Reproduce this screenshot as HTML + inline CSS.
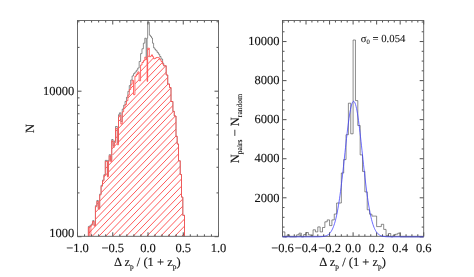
<!DOCTYPE html>
<html><head><meta charset="utf-8"><title>plot</title>
<style>html,body{margin:0;padding:0;background:#fff;}body{width:474px;height:277px;overflow:hidden;font-family:"Liberation Serif",serif;}</style></head>
<body>
<svg width="474" height="277" viewBox="0 0 474 277" style="display:block">
<rect width="474" height="277" fill="#fff"/>
<defs><filter id="gs" x="0" y="0" width="474" height="277" filterUnits="userSpaceOnUse" color-interpolation-filters="sRGB"><feColorMatrix type="saturate" values="0"/></filter><clipPath id="rc"><path d="M88.40 236.30 L88.40 227.35 L89.81 227.35 L89.81 226.61 L91.22 226.61 L91.22 225.05 L92.63 225.05 L92.63 221.56 L94.04 221.56 L94.04 226.10 L95.45 226.10 L95.45 206.63 L96.86 206.63 L96.86 201.38 L98.27 201.38 L98.27 209.20 L99.68 209.20 L99.68 194.91 L101.09 194.91 L101.09 186.22 L102.50 186.22 L102.50 181.05 L103.91 181.05 L103.91 175.62 L105.32 175.62 L105.32 161.37 L106.00 161.37 L106.00 161.43 L107.40 161.43 L107.40 176.86 L108.40 176.86 L108.40 161.48 L109.20 161.48 L109.20 155.80 L110.60 155.80 L110.60 161.65 L111.70 161.65 L111.70 140.90 L113.10 140.90 L113.10 147.37 L114.30 147.37 L114.30 142.72 L115.50 142.72 L115.50 128.41 L117.30 128.41 L117.30 144.80 L118.50 144.80 L118.50 116.95 L119.42 116.95 L119.42 115.22 L120.83 115.22 L120.83 124.06 L122.24 124.06 L122.24 111.81 L123.65 111.81 L123.65 108.19 L125.06 108.19 L125.06 104.54 L126.47 104.54 L126.47 100.68 L127.88 100.68 L127.88 95.09 L129.29 95.09 L129.29 89.51 L130.70 89.51 L130.70 84.28 L132.11 84.28 L132.11 80.40 L133.52 80.40 L133.52 94.70 L134.93 94.70 L134.93 76.17 L136.34 76.17 L136.34 74.07 L137.75 74.07 L137.75 71.90 L139.16 71.90 L139.16 80.80 L140.57 80.80 L140.57 65.05 L141.98 65.05 L141.98 62.47 L143.39 62.47 L143.39 60.68 L144.80 60.68 L144.80 57.09 L146.20 57.09 L146.20 59.50 L147.10 59.50 L147.10 81.40 L147.65 81.40 L147.65 48.20 L149.35 48.20 L149.35 56.75 L150.55 56.75 L150.55 56.14 L151.50 56.14 L151.50 54.86 L152.50 54.86 L152.50 56.66 L153.60 56.66 L153.60 58.81 L154.90 58.81 L154.90 58.36 L155.90 58.36 L155.90 57.60 L157.20 57.60 L157.20 57.43 L158.40 57.43 L158.40 57.91 L159.70 57.91 L159.70 59.65 L161.00 59.65 L161.00 61.46 L162.60 61.46 L162.60 64.18 L163.70 64.18 L163.70 65.80 L166.20 65.80 L166.20 75.00 L167.70 75.00 L167.70 84.00 L169.50 84.00 L169.50 87.50 L171.00 87.50 L171.00 101.50 L172.90 101.50 L172.90 111.40 L174.30 111.40 L174.30 116.00 L176.00 116.00 L176.00 136.30 L177.20 136.30 L177.20 144.00 L178.50 144.00 L178.50 160.80 L180.25 160.80 L180.25 174.50 L181.50 174.50 L181.50 197.10 L182.80 197.10 L182.80 215.30 L184.50 215.30 L184.50 236.30 Z"/></clipPath></defs>
<path d="M40.00 236.20 L118.52 155.00 L249.07 20.00 M46.50 236.20 L125.02 155.00 L255.57 20.00 M52.60 236.20 L131.12 155.00 L261.67 20.00 M59.10 236.20 L137.62 155.00 L268.17 20.00 M65.80 236.20 L144.32 155.00 L274.87 20.00 M72.40 236.20 L150.92 155.00 L281.47 20.00 M79.10 236.20 L157.62 155.00 L288.17 20.00 M85.70 236.20 L164.22 155.00 L294.77 20.00 M92.30 236.20 L170.82 155.00 L301.37 20.00 M98.90 236.20 L177.42 155.00 L307.97 20.00 M105.70 236.20 L184.22 155.00 L314.77 20.00 M112.60 236.20 L191.12 155.00 L321.67 20.00 M119.40 236.20 L197.92 155.00 L328.47 20.00 M126.20 236.20 L204.72 155.00 L335.27 20.00 M133.20 236.20 L211.72 155.00 L342.27 20.00 M140.10 236.20 L218.62 155.00 L349.17 20.00 M146.80 236.20 L225.32 155.00 L355.87 20.00 M153.70 236.20 L232.22 155.00 L362.77 20.00 M160.70 236.20 L239.22 155.00 L369.77 20.00 M167.90 236.20 L246.42 155.00 L376.97 20.00 M174.80 236.20 L253.32 155.00 L383.87 20.00 M181.80 236.20 L260.32 155.00 L390.87 20.00 M112.60 155.00 L243.15 20.00 M105.98 155.00 L236.53 20.00 M99.36 155.00 L229.91 20.00 M92.74 155.00 L223.29 20.00 M86.12 155.00 L216.67 20.00 M79.50 155.00 L210.05 20.00 M72.88 155.00 L203.43 20.00 M66.26 155.00 L196.81 20.00 M59.64 155.00 L190.19 20.00 M53.02 155.00 L183.57 20.00 M46.40 155.00 L176.95 20.00 M39.78 155.00 L170.33 20.00 M33.16 155.00 L163.71 20.00" stroke="#ff5252" stroke-width="0.95" fill="none" clip-path="url(#rc)"/>
<path d="M88.40 236.30 L88.40 226.45 L89.81 226.45 L89.81 225.71 L91.22 225.71 L91.22 224.15 L92.63 224.15 L92.63 220.66 L94.04 220.66 L94.04 225.20 L95.45 225.20 L95.45 205.73 L96.86 205.73 L96.86 200.48 L98.27 200.48 L98.27 208.30 L99.68 208.30 L99.68 194.01 L101.09 194.01 L101.09 185.28 L102.50 185.28 L102.50 180.09 L103.91 180.09 L103.91 174.63 L105.32 174.63 L105.32 160.36 L106.00 160.36 L106.00 160.40 L107.40 160.40 L107.40 175.80 L108.40 175.80 L108.40 160.40 L109.20 160.40 L109.20 154.70 L110.60 154.70 L110.60 160.40 L111.70 160.40 L111.70 139.50 L113.10 139.50 L113.10 145.80 L114.30 145.80 L114.30 141.00 L115.50 141.00 L115.50 126.50 L117.30 126.50 L117.30 142.70 L118.50 142.70 L118.50 114.71 L119.42 114.71 L119.42 112.83 L120.83 112.83 L120.83 121.50 L122.24 121.50 L122.24 109.07 L123.65 109.07 L123.65 105.27 L125.06 105.27 L125.06 101.40 L126.47 101.40 L126.47 97.27 L127.88 97.27 L127.88 91.42 L129.29 91.42 L129.29 85.57 L130.70 85.57 L130.70 80.08 L132.11 80.08 L132.11 75.94 L133.52 75.94 L133.52 73.65 L134.93 73.65 L134.93 72.02 L136.34 72.02 L136.34 70.21 L137.75 70.21 L137.75 68.02 L139.16 68.02 L139.16 61.50 L140.57 61.50 L140.57 53.62 L141.98 53.62 L141.98 48.78 L143.39 48.78 L143.39 43.17 L144.80 43.17 L144.80 38.20 L146.20 38.20 L146.20 58.50 L147.10 58.50 L147.10 38.20 L147.65 38.20 L147.65 22.30 L149.35 22.30 L149.35 35.20 L150.55 35.20 L150.55 36.50 L151.50 36.50 L151.50 38.00 L152.50 38.00 L152.50 43.20 L153.60 43.20 L153.60 47.90 L154.90 47.90 L154.90 49.50 L155.90 49.50 L155.90 50.80 L157.20 50.80 L157.20 52.50 L158.40 52.50 L158.40 54.20 L159.70 54.20 L159.70 56.50 L161.00 56.50 L161.00 59.00 L162.60 59.00 L162.60 63.20 L163.70 63.20 L163.70 65.80 L166.20 65.80 L166.20 75.00 L167.70 75.00 L167.70 84.00 L169.50 84.00 L169.50 87.50 L171.00 87.50 L171.00 101.50 L172.90 101.50 L172.90 111.40 L174.30 111.40 L174.30 116.00 L176.00 116.00 L176.00 136.30 L177.20 136.30 L177.20 144.00 L178.50 144.00 L178.50 160.80 L180.25 160.80 L180.25 174.50 L181.50 174.50 L181.50 197.10 L182.80 197.10 L182.80 215.30 L184.50 215.30 L184.50 236.30" stroke="#444" stroke-width="0.6" fill="none" stroke-linejoin="miter"/>
<path d="M88.40 236.30 L88.40 227.35 L89.81 227.35 L89.81 226.61 L91.22 226.61 L91.22 225.05 L92.63 225.05 L92.63 221.56 L94.04 221.56 L94.04 226.10 L95.45 226.10 L95.45 206.63 L96.86 206.63 L96.86 201.38 L98.27 201.38 L98.27 209.20 L99.68 209.20 L99.68 194.91 L101.09 194.91 L101.09 186.22 L102.50 186.22 L102.50 181.05 L103.91 181.05 L103.91 175.62 L105.32 175.62 L105.32 161.37 L106.00 161.37 L106.00 161.43 L107.40 161.43 L107.40 176.86 L108.40 176.86 L108.40 161.48 L109.20 161.48 L109.20 155.80 L110.60 155.80 L110.60 161.65 L111.70 161.65 L111.70 140.90 L113.10 140.90 L113.10 147.37 L114.30 147.37 L114.30 142.72 L115.50 142.72 L115.50 128.41 L117.30 128.41 L117.30 144.80 L118.50 144.80 L118.50 116.95 L119.42 116.95 L119.42 115.22 L120.83 115.22 L120.83 124.06 L122.24 124.06 L122.24 111.81 L123.65 111.81 L123.65 108.19 L125.06 108.19 L125.06 104.54 L126.47 104.54 L126.47 100.68 L127.88 100.68 L127.88 95.09 L129.29 95.09 L129.29 89.51 L130.70 89.51 L130.70 84.28 L132.11 84.28 L132.11 80.40 L133.52 80.40 L133.52 94.70 L134.93 94.70 L134.93 76.17 L136.34 76.17 L136.34 74.07 L137.75 74.07 L137.75 71.90 L139.16 71.90 L139.16 80.80 L140.57 80.80 L140.57 65.05 L141.98 65.05 L141.98 62.47 L143.39 62.47 L143.39 60.68 L144.80 60.68 L144.80 57.09 L146.20 57.09 L146.20 59.50 L147.10 59.50 L147.10 81.40 L147.65 81.40 L147.65 48.20 L149.35 48.20 L149.35 56.75 L150.55 56.75 L150.55 56.14 L151.50 56.14 L151.50 54.86 L152.50 54.86 L152.50 56.66 L153.60 56.66 L153.60 58.81 L154.90 58.81 L154.90 58.36 L155.90 58.36 L155.90 57.60 L157.20 57.60 L157.20 57.43 L158.40 57.43 L158.40 57.91 L159.70 57.91 L159.70 59.65 L161.00 59.65 L161.00 61.46 L162.60 61.46 L162.60 64.18 L163.70 64.18 L163.70 65.80 L166.20 65.80 L166.20 75.00 L167.70 75.00 L167.70 84.00 L169.50 84.00 L169.50 87.50 L171.00 87.50 L171.00 101.50 L172.90 101.50 L172.90 111.40 L174.30 111.40 L174.30 116.00 L176.00 116.00 L176.00 136.30 L177.20 136.30 L177.20 144.00 L178.50 144.00 L178.50 160.80 L180.25 160.80 L180.25 174.50 L181.50 174.50 L181.50 197.10 L182.80 197.10 L182.80 215.30 L184.50 215.30 L184.50 236.30" stroke="#fff" stroke-opacity="0.6" stroke-width="0.9" fill="none" stroke-linejoin="miter"/>
<path d="M88.40 236.30 L88.40 227.35 L89.81 227.35 L89.81 226.61 L91.22 226.61 L91.22 225.05 L92.63 225.05 L92.63 221.56 L94.04 221.56 L94.04 226.10 L95.45 226.10 L95.45 206.63 L96.86 206.63 L96.86 201.38 L98.27 201.38 L98.27 209.20 L99.68 209.20 L99.68 194.91 L101.09 194.91 L101.09 186.22 L102.50 186.22 L102.50 181.05 L103.91 181.05 L103.91 175.62 L105.32 175.62 L105.32 161.37 L106.00 161.37 L106.00 161.43 L107.40 161.43 L107.40 176.86 L108.40 176.86 L108.40 161.48 L109.20 161.48 L109.20 155.80 L110.60 155.80 L110.60 161.65 L111.70 161.65 L111.70 140.90 L113.10 140.90 L113.10 147.37 L114.30 147.37 L114.30 142.72 L115.50 142.72 L115.50 128.41 L117.30 128.41 L117.30 144.80 L118.50 144.80 L118.50 116.95 L119.42 116.95 L119.42 115.22 L120.83 115.22 L120.83 124.06 L122.24 124.06 L122.24 111.81 L123.65 111.81 L123.65 108.19 L125.06 108.19 L125.06 104.54 L126.47 104.54 L126.47 100.68 L127.88 100.68 L127.88 95.09 L129.29 95.09 L129.29 89.51 L130.70 89.51 L130.70 84.28 L132.11 84.28 L132.11 80.40 L133.52 80.40 L133.52 94.70 L134.93 94.70 L134.93 76.17 L136.34 76.17 L136.34 74.07 L137.75 74.07 L137.75 71.90 L139.16 71.90 L139.16 80.80 L140.57 80.80 L140.57 65.05 L141.98 65.05 L141.98 62.47 L143.39 62.47 L143.39 60.68 L144.80 60.68 L144.80 57.09 L146.20 57.09 L146.20 59.50 L147.10 59.50 L147.10 81.40 L147.65 81.40 L147.65 48.20 L149.35 48.20 L149.35 56.75 L150.55 56.75 L150.55 56.14 L151.50 56.14 L151.50 54.86 L152.50 54.86 L152.50 56.66 L153.60 56.66 L153.60 58.81 L154.90 58.81 L154.90 58.36 L155.90 58.36 L155.90 57.60 L157.20 57.60 L157.20 57.43 L158.40 57.43 L158.40 57.91 L159.70 57.91 L159.70 59.65 L161.00 59.65 L161.00 61.46 L162.60 61.46 L162.60 64.18 L163.70 64.18 L163.70 65.80 L166.20 65.80 L166.20 75.00 L167.70 75.00 L167.70 84.00 L169.50 84.00 L169.50 87.50 L171.00 87.50 L171.00 101.50 L172.90 101.50 L172.90 111.40 L174.30 111.40 L174.30 116.00 L176.00 116.00 L176.00 136.30 L177.20 136.30 L177.20 144.00 L178.50 144.00 L178.50 160.80 L180.25 160.80 L180.25 174.50 L181.50 174.50 L181.50 197.10 L182.80 197.10 L182.80 215.30 L184.50 215.30 L184.50 236.30" stroke="#ff2626" stroke-width="0.68" fill="none" stroke-linejoin="miter"/>
<path d="M89.6 236.2 V227.2 M90.9 236.2 V226.8" stroke="#ff2a2a" stroke-width="0.6" fill="none"/>
<path d="M77.50 236.30 v-4.00 M77.50 20.50 v4.00 M84.55 236.30 v-2.00 M84.55 20.50 v2.00 M91.60 236.30 v-2.00 M91.60 20.50 v2.00 M98.65 236.30 v-2.00 M98.65 20.50 v2.00 M105.70 236.30 v-2.00 M105.70 20.50 v2.00 M112.75 236.30 v-4.00 M112.75 20.50 v4.00 M119.80 236.30 v-2.00 M119.80 20.50 v2.00 M126.85 236.30 v-2.00 M126.85 20.50 v2.00 M133.90 236.30 v-2.00 M133.90 20.50 v2.00 M140.95 236.30 v-2.00 M140.95 20.50 v2.00 M148.00 236.30 v-4.00 M148.00 20.50 v4.00 M155.05 236.30 v-2.00 M155.05 20.50 v2.00 M162.10 236.30 v-2.00 M162.10 20.50 v2.00 M169.15 236.30 v-2.00 M169.15 20.50 v2.00 M176.20 236.30 v-2.00 M176.20 20.50 v2.00 M183.25 236.30 v-4.00 M183.25 20.50 v4.00 M190.30 236.30 v-2.00 M190.30 20.50 v2.00 M197.35 236.30 v-2.00 M197.35 20.50 v2.00 M204.40 236.30 v-2.00 M204.40 20.50 v2.00 M211.45 236.30 v-2.00 M211.45 20.50 v2.00 M218.50 236.30 v-4.00 M218.50 20.50 v4.00 M77.50 236.70 h4.00 M218.50 236.70 h-4.00 M77.50 192.90 h2.00 M218.50 192.90 h-2.00 M77.50 167.28 h2.00 M218.50 167.28 h-2.00 M77.50 149.10 h2.00 M218.50 149.10 h-2.00 M77.50 135.00 h2.00 M218.50 135.00 h-2.00 M77.50 123.48 h2.00 M218.50 123.48 h-2.00 M77.50 113.74 h2.00 M218.50 113.74 h-2.00 M77.50 105.30 h2.00 M218.50 105.30 h-2.00 M77.50 97.86 h2.00 M218.50 97.86 h-2.00 M77.50 91.20 h4.00 M218.50 91.20 h-4.00 M77.50 47.40 h2.00 M218.50 47.40 h-2.00 M77.50 21.78 h2.00 M218.50 21.78 h-2.00" stroke="#484848" stroke-width="0.95" fill="none"/>
<rect x="77.50" y="20.50" width="141.00" height="215.80" fill="none" stroke="#5c5c5c" stroke-width="0.9"/>
<path d="M282.50 231.90 L284.85 231.90 L284.85 236.85 L287.21 236.85 L287.21 234.80 L289.56 234.80 L289.56 236.85 L291.91 236.85 L291.91 236.85 L294.27 236.85 L294.27 236.85 L296.62 236.85 L296.62 234.80 L298.97 234.80 L298.97 233.20 L301.33 233.20 L301.33 236.85 L303.68 236.85 L303.68 234.50 L306.03 234.50 L306.03 232.50 L308.39 232.50 L308.39 234.80 L310.74 234.80 L310.74 235.70 L313.09 235.70 L313.09 229.80 L315.45 229.80 L315.45 231.90 L317.80 231.90 L317.80 226.90 L320.15 226.90 L320.15 231.90 L322.51 231.90 L322.51 227.50 L324.86 227.50 L324.86 221.80 L327.21 221.80 L327.21 219.90 L329.57 219.90 L329.57 225.60 L331.92 225.60 L331.92 219.90 L334.27 219.90 L334.27 214.00 L336.63 214.00 L336.63 203.00 L338.98 203.00 L338.98 203.00 L341.33 203.00 L341.33 173.00 L343.69 173.00 L343.69 159.60 L346.04 159.60 L346.04 134.70 L348.39 134.70 L348.39 103.20 L350.75 103.20 L350.75 133.80 L353.10 133.80 L353.10 40.00 L355.45 40.00 L355.45 100.60 L357.81 100.60 L357.81 125.50 L360.16 125.50 L360.16 154.90 L362.51 154.90 L362.51 171.40 L364.87 171.40 L364.87 191.90 L367.22 191.90 L367.22 209.80 L369.57 209.80 L369.57 214.20 L371.93 214.20 L371.93 216.10 L374.28 216.10 L374.28 216.10 L376.63 216.10 L376.63 226.60 L378.99 226.60 L378.99 226.60 L381.34 226.60 L381.34 224.30 L383.69 224.30 L383.69 229.40 L386.05 229.40 L386.05 235.70 L388.40 235.70 L388.40 233.50 L390.75 233.50 L390.75 236.85 L393.11 236.85 L393.11 235.10 L395.46 235.10 L395.46 234.20 L397.81 234.20 L397.81 233.20 L400.17 233.20 L400.17 236.85 L402.52 236.85 L402.52 236.85 L404.87 236.85 L404.87 236.85 L407.23 236.85 L407.23 236.85 L409.58 236.85 L409.58 236.85 L411.93 236.85 L411.93 236.85 L414.29 236.85 L414.29 236.85 L416.64 236.85 L416.64 236.85 L418.99 236.85 L418.99 236.85 L421.35 236.85 L421.35 236.85 L423.70 236.85" stroke="#444" stroke-width="0.62" fill="none"/>
<path d="M282.50 236.30 v-4.00 M282.50 20.50 v4.00 M288.38 236.30 v-2.00 M288.38 20.50 v2.00 M294.27 236.30 v-2.00 M294.27 20.50 v2.00 M300.15 236.30 v-2.00 M300.15 20.50 v2.00 M306.03 236.30 v-4.00 M306.03 20.50 v4.00 M311.92 236.30 v-2.00 M311.92 20.50 v2.00 M317.80 236.30 v-2.00 M317.80 20.50 v2.00 M323.68 236.30 v-2.00 M323.68 20.50 v2.00 M329.57 236.30 v-4.00 M329.57 20.50 v4.00 M335.45 236.30 v-2.00 M335.45 20.50 v2.00 M341.33 236.30 v-2.00 M341.33 20.50 v2.00 M347.22 236.30 v-2.00 M347.22 20.50 v2.00 M353.10 236.30 v-4.00 M353.10 20.50 v4.00 M358.98 236.30 v-2.00 M358.98 20.50 v2.00 M364.87 236.30 v-2.00 M364.87 20.50 v2.00 M370.75 236.30 v-2.00 M370.75 20.50 v2.00 M376.63 236.30 v-4.00 M376.63 20.50 v4.00 M382.52 236.30 v-2.00 M382.52 20.50 v2.00 M388.40 236.30 v-2.00 M388.40 20.50 v2.00 M394.28 236.30 v-2.00 M394.28 20.50 v2.00 M400.17 236.30 v-4.00 M400.17 20.50 v4.00 M406.05 236.30 v-2.00 M406.05 20.50 v2.00 M411.93 236.30 v-2.00 M411.93 20.50 v2.00 M417.82 236.30 v-2.00 M417.82 20.50 v2.00 M423.70 236.30 v-4.00 M423.70 20.50 v4.00 M282.50 236.85 h4.00 M423.70 236.85 h-4.00 M282.50 227.08 h2.00 M423.70 227.08 h-2.00 M282.50 217.32 h2.00 M423.70 217.32 h-2.00 M282.50 207.56 h2.00 M423.70 207.56 h-2.00 M282.50 197.79 h4.00 M423.70 197.79 h-4.00 M282.50 188.02 h2.00 M423.70 188.02 h-2.00 M282.50 178.26 h2.00 M423.70 178.26 h-2.00 M282.50 168.50 h2.00 M423.70 168.50 h-2.00 M282.50 158.73 h4.00 M423.70 158.73 h-4.00 M282.50 148.96 h2.00 M423.70 148.96 h-2.00 M282.50 139.20 h2.00 M423.70 139.20 h-2.00 M282.50 129.44 h2.00 M423.70 129.44 h-2.00 M282.50 119.67 h4.00 M423.70 119.67 h-4.00 M282.50 109.90 h2.00 M423.70 109.90 h-2.00 M282.50 100.14 h2.00 M423.70 100.14 h-2.00 M282.50 90.37 h2.00 M423.70 90.37 h-2.00 M282.50 80.61 h4.00 M423.70 80.61 h-4.00 M282.50 70.84 h2.00 M423.70 70.84 h-2.00 M282.50 61.08 h2.00 M423.70 61.08 h-2.00 M282.50 51.31 h2.00 M423.70 51.31 h-2.00 M282.50 41.55 h4.00 M423.70 41.55 h-4.00 M282.50 31.78 h2.00 M423.70 31.78 h-2.00 M282.50 22.02 h2.00 M423.70 22.02 h-2.00" stroke="#484848" stroke-width="0.95" fill="none"/>
<rect x="282.50" y="20.50" width="141.20" height="215.80" fill="none" stroke="#5c5c5c" stroke-width="0.9"/>
<path d="M282.50 236.85 L283.00 236.85 L283.50 236.85 L284.00 236.85 L284.50 236.85 L285.00 236.85 L285.50 236.85 L286.00 236.85 L286.50 236.85 L287.00 236.85 L287.50 236.85 L288.00 236.85 L288.50 236.85 L289.00 236.85 L289.50 236.85 L290.00 236.85 L290.50 236.85 L291.00 236.85 L291.50 236.85 L292.00 236.85 L292.50 236.85 L293.00 236.85 L293.50 236.85 L294.00 236.85 L294.50 236.85 L295.00 236.85 L295.50 236.85 L296.00 236.85 L296.50 236.85 L297.00 236.85 L297.50 236.85 L298.00 236.85 L298.50 236.85 L299.00 236.85 L299.50 236.85 L300.00 236.85 L300.50 236.85 L301.00 236.85 L301.50 236.85 L302.00 236.85 L302.50 236.85 L303.00 236.85 L303.50 236.85 L304.00 236.85 L304.50 236.85 L305.00 236.85 L305.50 236.85 L306.00 236.85 L306.50 236.85 L307.00 236.85 L307.50 236.85 L308.00 236.85 L308.50 236.85 L309.00 236.85 L309.50 236.85 L310.00 236.85 L310.50 236.85 L311.00 236.85 L311.50 236.85 L312.00 236.85 L312.50 236.85 L313.00 236.85 L313.50 236.85 L314.00 236.84 L314.50 236.84 L315.00 236.84 L315.50 236.84 L316.00 236.83 L316.50 236.83 L317.00 236.82 L317.50 236.82 L318.00 236.81 L318.50 236.80 L319.00 236.78 L319.50 236.77 L320.00 236.75 L320.50 236.73 L321.00 236.70 L321.50 236.66 L322.00 236.62 L322.50 236.57 L323.00 236.51 L323.50 236.43 L324.00 236.35 L324.50 236.24 L325.00 236.12 L325.50 235.97 L326.00 235.80 L326.50 235.60 L327.00 235.37 L327.50 235.10 L328.00 234.78 L328.50 234.42 L329.00 234.00 L329.50 233.52 L330.00 232.98 L330.50 232.36 L331.00 231.65 L331.50 230.85 L332.00 229.95 L332.50 228.95 L333.00 227.82 L333.50 226.57 L334.00 225.18 L334.50 223.65 L335.00 221.96 L335.50 220.11 L336.00 218.09 L336.50 215.89 L337.00 213.51 L337.50 210.94 L338.00 208.18 L338.50 205.23 L339.00 202.09 L339.50 198.75 L340.00 195.23 L340.50 191.53 L341.00 187.65 L341.50 183.62 L342.00 179.43 L342.50 175.12 L343.00 170.69 L343.50 166.17 L344.00 161.59 L344.50 156.96 L345.00 152.31 L345.50 147.68 L346.00 143.10 L346.50 138.60 L347.00 134.21 L347.50 129.96 L348.00 125.89 L348.50 122.04 L349.00 118.43 L349.50 115.09 L350.00 112.06 L350.50 109.37 L351.00 107.03 L351.50 105.06 L352.00 103.50 L352.50 102.34 L353.00 101.61 L353.50 101.31 L354.00 101.44 L354.50 102.00 L355.00 102.99 L355.50 104.39 L356.00 106.19 L356.50 108.39 L357.00 110.94 L357.50 113.84 L358.00 117.06 L358.50 120.56 L359.00 124.32 L359.50 128.31 L360.00 132.49 L360.50 136.83 L361.00 141.29 L361.50 145.84 L362.00 150.46 L362.50 155.10 L363.00 159.74 L363.50 164.34 L364.00 168.89 L364.50 173.36 L365.00 177.72 L365.50 181.96 L366.00 186.06 L366.50 190.00 L367.00 193.77 L367.50 197.37 L368.00 200.78 L368.50 204.00 L369.00 207.03 L369.50 209.86 L370.00 212.50 L370.50 214.96 L371.00 217.23 L371.50 219.32 L372.00 221.24 L372.50 222.99 L373.00 224.59 L373.50 226.03 L374.00 227.34 L374.50 228.51 L375.00 229.57 L375.50 230.51 L376.00 231.34 L376.50 232.08 L377.00 232.74 L377.50 233.31 L378.00 233.82 L378.50 234.26 L379.00 234.64 L379.50 234.98 L380.00 235.27 L380.50 235.51 L381.00 235.73 L381.50 235.91 L382.00 236.06 L382.50 236.19 L383.00 236.31 L383.50 236.40 L384.00 236.48 L384.50 236.54 L385.00 236.60 L385.50 236.65 L386.00 236.68 L386.50 236.71 L387.00 236.74 L387.50 236.76 L388.00 236.78 L388.50 236.79 L389.00 236.80 L389.50 236.81 L390.00 236.82 L390.50 236.83 L391.00 236.83 L391.50 236.84 L392.00 236.84 L392.50 236.84 L393.00 236.84 L393.50 236.84 L394.00 236.85 L394.50 236.85 L395.00 236.85 L395.50 236.85 L396.00 236.85 L396.50 236.85 L397.00 236.85 L397.50 236.85 L398.00 236.85 L398.50 236.85 L399.00 236.85 L399.50 236.85 L400.00 236.85 L400.50 236.85 L401.00 236.85 L401.50 236.85 L402.00 236.85 L402.50 236.85 L403.00 236.85 L403.50 236.85 L404.00 236.85 L404.50 236.85 L405.00 236.85 L405.50 236.85 L406.00 236.85 L406.50 236.85 L407.00 236.85 L407.50 236.85 L408.00 236.85 L408.50 236.85 L409.00 236.85 L409.50 236.85 L410.00 236.85 L410.50 236.85 L411.00 236.85 L411.50 236.85 L412.00 236.85 L412.50 236.85 L413.00 236.85 L413.50 236.85 L414.00 236.85 L414.50 236.85 L415.00 236.85 L415.50 236.85 L416.00 236.85 L416.50 236.85 L417.00 236.85 L417.50 236.85 L418.00 236.85 L418.50 236.85 L419.00 236.85 L419.50 236.85 L420.00 236.85 L420.50 236.85 L421.00 236.85 L421.50 236.85 L422.00 236.85 L422.50 236.85 L423.00 236.85 L423.50 236.85" stroke="#3a3aff" stroke-width="0.75" fill="none"/>
<g style="font-family:'Liberation Serif',serif" font-size="12.5" fill="#111" stroke="#111" stroke-width="0.12" filter="url(#gs)" text-rendering="geometricPrecision">
<text x="74.3" y="95.3" text-anchor="end">10000</text>
<text x="74.3" y="236.5" text-anchor="end">1000</text>
<text x="77.50" y="252.3" text-anchor="middle">−1.0</text>
<text x="112.75" y="252.3" text-anchor="middle">−0.5</text>
<text x="148.00" y="252.3" text-anchor="middle">0.0</text>
<text x="183.25" y="252.3" text-anchor="middle">0.5</text>
<text x="218.50" y="252.3" text-anchor="middle">1.0</text>
<text x="282.50" y="252.3" text-anchor="middle">−0.6</text>
<text x="306.03" y="252.3" text-anchor="middle">−0.4</text>
<text x="329.57" y="252.3" text-anchor="middle">−0.2</text>
<text x="353.10" y="252.3" text-anchor="middle">0.0</text>
<text x="376.63" y="252.3" text-anchor="middle">0.2</text>
<text x="400.17" y="252.3" text-anchor="middle">0.4</text>
<text x="423.70" y="252.3" text-anchor="middle">0.6</text>
<text x="279.6" y="201.54" text-anchor="end">2000</text>
<text x="279.6" y="162.48" text-anchor="end">4000</text>
<text x="279.6" y="123.42" text-anchor="end">6000</text>
<text x="279.6" y="84.36" text-anchor="end">8000</text>
<text x="279.6" y="45.30" text-anchor="end">10000</text>
<text x="147.3" y="266.2" text-anchor="middle">Δ z<tspan font-size="7.4" dy="2.8">p</tspan><tspan dy="-2.8"> / (1 + z</tspan><tspan font-size="7.4" dy="2.8">p</tspan><tspan dy="-2.8">)</tspan></text>
<text x="352.6" y="266.2" text-anchor="middle">Δ z<tspan font-size="7.4" dy="2.8">p</tspan><tspan dy="-2.8"> / (1 + z</tspan><tspan font-size="7.4" dy="2.8">p</tspan><tspan dy="-2.8">)</tspan></text>
<text transform="translate(33.7 128.6) rotate(-90)" text-anchor="middle">N</text>
<text transform="translate(239 128.6) rotate(-90)" text-anchor="middle">N<tspan font-size="7.6" dy="2.5">pairs</tspan><tspan dy="-2.5"> − N</tspan><tspan font-size="7.6" dy="2.5">random</tspan></text>
<text x="360.8" y="41.7" font-size="10.7" stroke-width="0.08">σ<tspan font-size="6.7" dy="2.2">0</tspan><tspan dy="-2.2"> = 0.054</tspan></text>
</g>
</svg>
</body></html>
